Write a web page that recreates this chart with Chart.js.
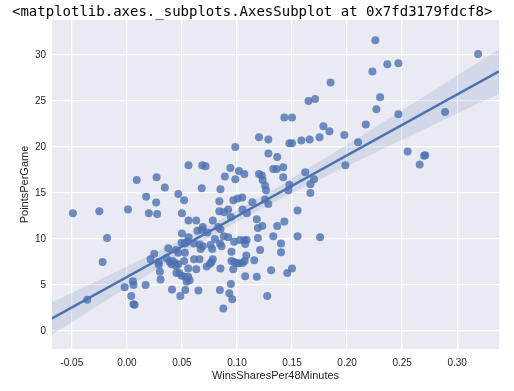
<!DOCTYPE html>
<html>
<head>
<meta charset="utf-8">
<script src="https://cdn.jsdelivr.net/npm/chart.js@4.4.0/dist/chart.umd.min.js"></script>
<style>
  html, body { margin: 0; padding: 0; background: #fff; }
</style>
</head>
<body>
<canvas id="regChart" width="514" height="391"></canvas>
<script>
// Win shares per 48 minutes vs points per game
const winShares = [
  -0.049, -0.025, -0.018, -0.022, -0.036, -0.002, 0.001, 0.009, 0.0055, 0.006, 0.004, 0.006, 0.007,
  0.0175, 0.020, 0.017, 0.0215, 0.0248, 0.027, 0.0266, 0.0275, 0.029, 0.029, 0.030, 0.0306, 0.0345,
  0.036, 0.0376, 0.039, 0.0406, 0.0415, 0.041, 0.0436, 0.0445, 0.0448, 0.0467, 0.045, 0.0476, 0.0497,
  0.0467, 0.0467, 0.0485, 0.0497, 0.050, 0.050, 0.052, 0.0527, 0.0527, 0.052, 0.0527, 0.053, 0.0543,
  0.055, 0.056, 0.056, 0.056, 0.0557, 0.0557, 0.057,
  0.061, 0.061, 0.063, 0.064, 0.063, 0.065, 0.068, 0.068, 0.069, 0.0685, 0.0715, 0.066, 0.069, 0.067,
  0.066, 0.0725, 0.0755, 0.077, 0.078, 0.073, 0.076, 0.0775, 0.078, 0.080,
  0.083, 0.085, 0.088, 0.092, 0.0845, 0.086, 0.084, 0.085, 0.084, 0.0885, 0.092, 0.0945, 0.085, 0.0845,
  0.0876, 0.089, 0.094, 0.0985, 0.0985, 0.093, 0.0957, 0.0945, 0.0967, 0.095, 0.0975, 0.095, 0.0997,
  0.0975, 0.0967,
  0.1006, 0.1048, 0.1018, 0.1067, 0.1027, 0.1066, 0.1088, 0.1075, 0.1018, 0.105, 0.107, 0.1085, 0.1075,
  0.105, 0.109, 0.114, 0.1157, 0.118, 0.118, 0.119, 0.119, 0.120, 0.120, 0.1225, 0.1255, 0.123, 0.121,
  0.1233, 0.1255, 0.1264, 0.1285, 0.1285, 0.1285, 0.1366, 0.133, 0.136, 0.142, 0.142, 0.1476, 0.1467,
  0.1366, 0.143, 0.133, 0.140, 0.140, 0.131, 0.1457, 0.150, 0.1275, 0.143, 0.150, 0.1476, 0.150, 0.1585,
  0.155, 0.155,
  0.166, 0.175, 0.1785, 0.184, 0.1975, 0.165, 0.171, 0.185, 0.162, 0.170, 0.1667, 0.1667, 0.1755, 0.1985,
  0.210, 0.217, 0.2266, 0.230, 0.223, 0.2257, 0.2366, 0.2466, 0.2466, 0.255, 0.271, 0.270, 0.266, 0.289,
  0.319
];
const pointsPerGame = [
  12.8, 13.0, 10.1, 7.5, 3.4, 4.75, 13.2, 16.4, 5.4, 5.0, 3.8, 2.9, 2.85,
  14.6, 12.8, 5.0, 7.8, 8.4, 16.7, 13.95, 12.7, 7.5, 7.2, 6.45, 5.6, 15.6,
  7.9, 9.0, 7.5, 7.25, 7.6, 4.5, 7.4, 8.8, 7.07, 7.25, 6.3, 6.3, 6.0,
  14.9, 8.5, 3.8, 9.6, 12.8, 10.6, 14.2, 9.5, 8.5, 7.6, 5.9, 4.45, 5.35,
  9.7, 18.0, 12.0, 10.2, 6.8, 5.9, 5.5,
  9.5, 7.8, 12.0, 10.9, 6.7, 4.4, 15.5, 11.0, 11.3, 18.0, 17.9, 9.4, 9.2, 8.9,
  7.8, 7.0, 7.3, 7.5, 7.8, 10.7, 9.35, 8.9, 12.0, 10.0,
  11.3, 11.05, 10.3, 10.2, 9.5, 9.2, 14.1, 15.4, 13.0, 12.9, 13.2, 12.4, 6.8, 4.45,
  2.45, 16.8, 17.7, 20.0, 16.5, 4.1, 3.45, 5.1, 6.7, 8.6, 7.5, 7.6, 7.35,
  9.7, 14.2,
  14.4, 14.5, 17.4, 17.06, 9.9, 9.85, 9.9, 9.45, 7.35, 7.4, 7.6, 8.2, 5.95,
  13.2, 12.8, 14.0, 7.7, 5.9, 12.15, 11.2, 10.1, 21.05, 17.07, 16.9, 14.3, 11.4, 8.8,
  16.4, 15.8, 15.3, 13.8, 20.8, 19.3, 18.9, 17.6, 17.6, 17.8, 16.7, 15.9, 15.3,
  11.4, 11.9, 10.3, 9.5, 8.55, 6.6, 6.3, 6.8, 3.8, 23.2, 23.2, 20.4, 20.4, 20.7,
  13.1, 10.3,
  20.8, 21.05, 22.25, 21.7, 21.3, 25.0, 25.2, 27.0, 17.25, 16.5, 15.95, 15.0, 10.2, 18.0,
  20.5, 22.45, 24.1, 25.4, 28.2, 31.6, 29.0, 29.1, 23.55, 19.5, 19.1, 19.05, 18.1, 23.8,
  30.1
];
const xTickValues = [-0.05, 0.00, 0.05, 0.10, 0.15, 0.20, 0.25, 0.30];
const yTickValues = [0, 5, 10, 15, 20, 25, 30];
const xRange = [-0.068, 0.338];
const yRange = [-1.96, 33.8];
const headerText = '<matplotlib.axes._subplots.AxesSubplot at 0x7fd3179fdcf8>';

// ordinary least squares fit + 95% confidence band
const n = winShares.length;
const mx = winShares.reduce((s, v) => s + v, 0) / n;
const my = pointsPerGame.reduce((s, v) => s + v, 0) / n;
let sxx = 0, sxy = 0;
winShares.forEach((x, i) => { sxx += (x - mx) ** 2; sxy += (x - mx) * (pointsPerGame[i] - my); });
const slope = sxy / sxx;
const intercept = my - slope * mx;
let sse = 0;
winShares.forEach((x, i) => { sse += (pointsPerGame[i] - intercept - slope * x) ** 2; });
const sErr = Math.sqrt(sse / (n - 2));
const tCrit = 1.972;

const fitLine = xRange.map(x => ({ x, y: intercept + slope * x }));
const bandLower = [], bandUpper = [];
for (let k = 0; k <= 80; k++) {
  const x = xRange[0] + (xRange[1] - xRange[0]) * k / 80;
  const yh = intercept + slope * x;
  const h = tCrit * sErr * Math.sqrt(1 / n + (x - mx) ** 2 / sxx);
  bandLower.push({ x, y: yh - h });
  bandUpper.push({ x, y: yh + h });
}

const scatterData = winShares.map((x, i) => ({ x, y: pointsPerGame[i] }));

const deep = '#4C72B0';
const textColor = '#262626';
const tickFont = { family: 'Liberation Sans, Arial, sans-serif', size: 10 };
const labelFont = { family: 'Liberation Sans, Arial, sans-serif', size: 11 };

const framePlugin = {
  id: 'frame',
  beforeDraw(chart) {
    const { ctx, chartArea: a } = chart;
    ctx.save();
    ctx.fillStyle = '#ffffff';
    ctx.fillRect(0, 0, chart.width, chart.height);
    ctx.fillStyle = '#EAEAF2';
    ctx.fillRect(a.left, a.top, a.right - a.left, a.bottom - a.top);
    ctx.fillStyle = '#000000';
    ctx.font = '14px "DejaVu Sans Mono", monospace';
    ctx.textBaseline = 'alphabetic';
    ctx.fillText(headerText, 12, 16);
    ctx.restore();
  }
};

new Chart(document.getElementById('regChart'), {
  type: 'scatter',
  data: {
    datasets: [
      {
        type: 'line',
        data: fitLine,
        borderColor: deep,
        borderWidth: 2.5,
        pointRadius: 0,
        fill: false,
        order: 0
      },
      {
        data: scatterData,
        backgroundColor: 'rgba(76,114,176,0.8)',
        borderWidth: 0,
        pointRadius: 4,
        order: 1
      },
      {
        type: 'line',
        data: bandLower,
        borderWidth: 0,
        pointRadius: 0,
        fill: false,
        order: 2
      },
      {
        type: 'line',
        data: bandUpper,
        borderWidth: 0,
        pointRadius: 0,
        backgroundColor: 'rgba(76,114,176,0.15)',
        fill: 2,
        order: 2
      }
    ]
  },
  options: {
    responsive: false,
    animation: false,
    layout: { padding: { top: 20, right: 15, left: 0, bottom: 0 } },
    plugins: {
      legend: { display: false },
      tooltip: { enabled: false }
    },
    scales: {
      x: {
        type: 'linear',
        min: xRange[0],
        max: xRange[1],
        afterBuildTicks: s => { s.ticks = xTickValues.map(v => ({ value: v })); },
        afterFit: s => { s.height = 42; },
        grid: { color: '#ffffff', lineWidth: 1.25, drawTicks: false },
        border: { display: false },
        ticks: {
          color: textColor,
          font: tickFont,
          padding: 8,
          maxRotation: 0,
          callback: v => v.toFixed(2)
        },
        title: {
          display: true,
          text: 'WinsSharesPer48Minutes',
          color: textColor,
          font: labelFont,
          padding: { top: 0, bottom: 8 }
        }
      },
      y: {
        type: 'linear',
        min: yRange[0],
        max: yRange[1],
        afterBuildTicks: s => { s.ticks = yTickValues.map(v => ({ value: v })); },
        afterFit: s => { s.width = 52; },
        grid: { color: '#ffffff', lineWidth: 1.25, drawTicks: false },
        border: { display: false },
        ticks: {
          color: textColor,
          font: tickFont,
          padding: 6,
          callback: v => String(v)
        },
        title: {
          display: true,
          text: 'PointsPerGame',
          color: textColor,
          font: labelFont,
          padding: { top: 18, bottom: 0 }
        }
      }
    }
  },
  plugins: [framePlugin]
});
</script>
</body>
</html>
